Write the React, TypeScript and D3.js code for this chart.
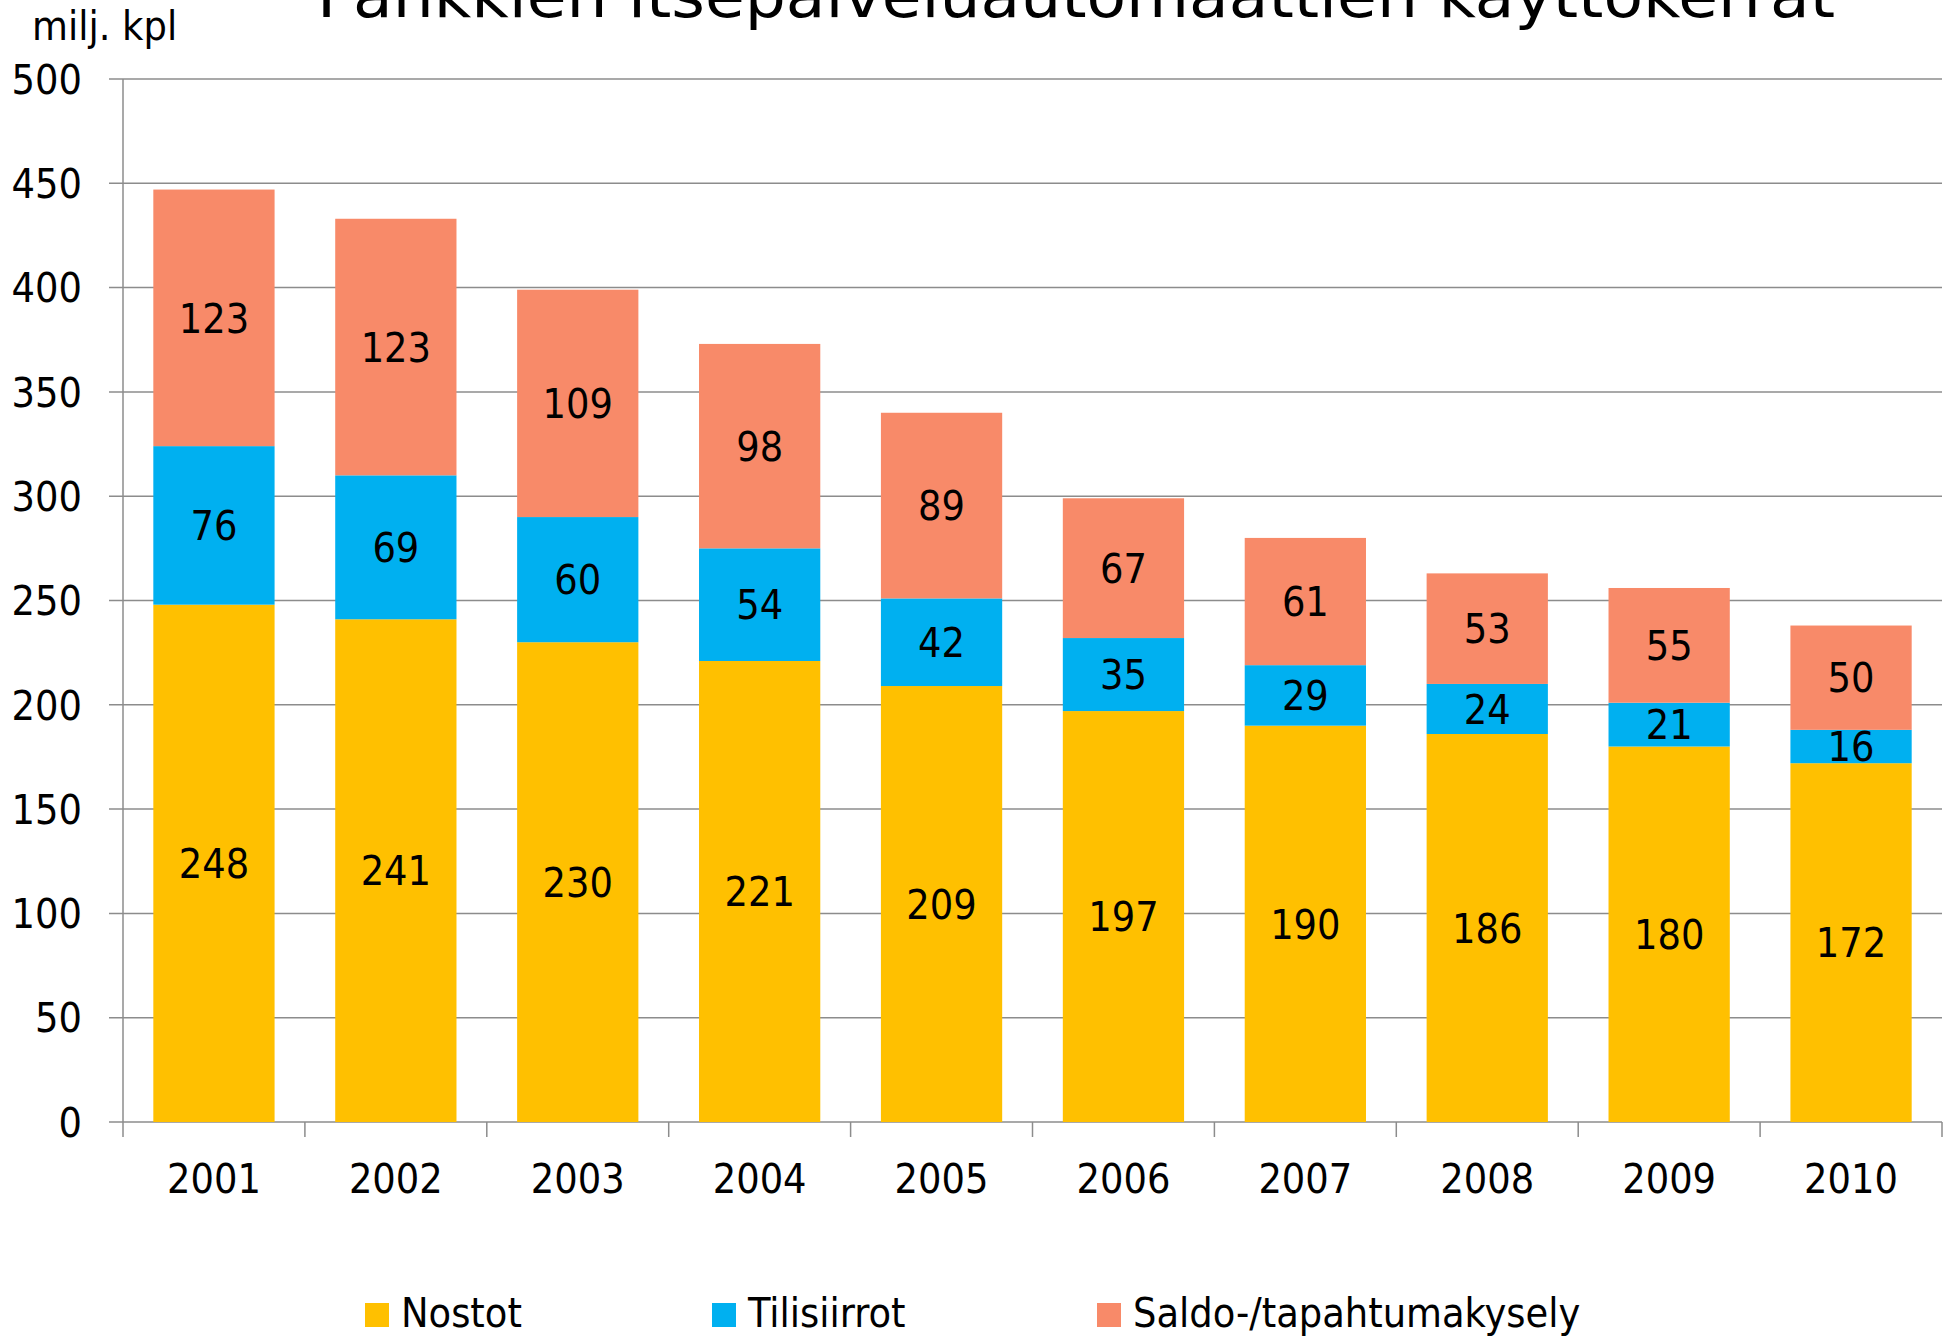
import React from "react";
import * as d3 from "d3";

const years = ["2001", "2002", "2003", "2004", "2005", "2006", "2007", "2008", "2009", "2010"];
const nostot = [248, 241, 230, 221, 209, 197, 190, 186, 180, 172];
const tilisiirrot = [76, 69, 60, 54, 42, 35, 29, 24, 21, 16];
const saldo = [123, 123, 109, 98, 89, 67, 61, 53, 55, 50];
const seriesNames = ["Nostot", "Tilisiirrot", "Saldo-/tapahtumakysely"];
const seriesColors = ["#FFC000", "#00B0F0", "#F88A69"];
const yTicks = [0, 50, 100, 150, 200, 250, 300, 350, 400, 450, 500];
const title = "Pankkien itsepalveluautomaattien käyttökerrat";
const yLabel = "milj. kpl";

const W = 1951;
const H = 1338;
const FONT = "'DejaVu Sans Condensed', 'DejaVu Sans', sans-serif";

export default function App() {
  const x = d3.scaleBand<string>().domain(years).range([123, 1942]).paddingInner(1 / 3).paddingOuter(1 / 6);
  const y = d3.scaleLinear().domain([0, 500]).range([1122, 79]);
  const rows = years.map((yr, i) => ({ year: yr, Nostot: nostot[i], Tilisiirrot: tilisiirrot[i], "Saldo-/tapahtumakysely": saldo[i] }));
  const stack = d3.stack<any>().keys(seriesNames)(rows);
  const step = x.step();
  const x0 = 123;
  const legendX = [365, 712, 1097];

  return (
    <svg width={W} height={H} style={{ position: "absolute", left: 0, top: 0, display: "block" }} fontFamily={FONT}>
      <rect width={W} height={H} fill="#fff" />
      <text x={317} y={17} fontSize={61} textLength={1518} lengthAdjust="spacingAndGlyphs" fill="#000" style={{ fontFamily: "'DejaVu Sans', sans-serif" }}>
        {title}
      </text>
      <text x={32} y={40} fontSize={41} fill="#000">{yLabel}</text>
      {yTicks.map((t) => (
        <g key={t}>
          <line x1={109} x2={1942} y1={y(t)} y2={y(t)} stroke="#8C8C8C" strokeWidth={1.5} />
          <text x={82} y={y(t)} dy="0.36em" textAnchor="end" fontSize={41} fill="#000">{t}</text>
        </g>
      ))}
      <line x1={x0} x2={x0} y1={79} y2={1137} stroke="#8C8C8C" strokeWidth={1.5} />
      {years.map((yr, i) => (
        <line key={"t" + i} x1={x0 + (i + 1) * step} x2={x0 + (i + 1) * step} y1={1122} y2={1137} stroke="#8C8C8C" strokeWidth={1.5} />
      ))}
      {stack.map((s, si) => (
        <g key={s.key}>
          {s.map((d: any, i: number) => (
            <g key={i}>
              <rect x={x(years[i])} y={y(d[1])} width={x.bandwidth()} height={y(d[0]) - y(d[1])} fill={seriesColors[si]} />
              <text x={(x(years[i]) as number) + x.bandwidth() / 2} y={(y(d[0]) + y(d[1])) / 2} dy="0.36em" textAnchor="middle" fontSize={41} fill="#000">
                {d[1] - d[0]}
              </text>
            </g>
          ))}
        </g>
      ))}
      {years.map((yr) => (
        <text key={"xl" + yr} x={(x(yr) as number) + x.bandwidth() / 2} y={1193} textAnchor="middle" fontSize={41} fill="#000">{yr}</text>
      ))}
      {seriesNames.map((n, i) => (
        <g key={n}>
          <rect x={legendX[i]} y={1303} width={24} height={24} fill={seriesColors[i]} />
          <text x={legendX[i] + 36} y={1327} fontSize={41} fill="#000">{n}</text>
        </g>
      ))}
    </svg>
  );
}
